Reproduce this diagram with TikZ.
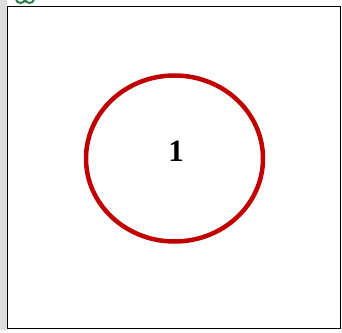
\documentclass[tikz,border=0pt]{standalone}
\usepackage{fontspec}
\setmainfont{Liberation Serif}
\definecolor{ringred}{HTML}{C00000}
\definecolor{stripgray}{HTML}{DCDCDC}
\definecolor{leafgreen}{HTML}{2E7D4F}
\tikzset{
  ring/.style={draw=ringred, line width=4.5pt, ellipse, minimum width=177pt, minimum height=166pt, inner sep=0pt},
  framebox/.style={draw=black, line width=1pt},
}
\usetikzlibrary{shapes.geometric}
\begin{document}
\begin{tikzpicture}[x=1pt,y=1pt]
\useasboundingbox (0,0) rectangle (342,332);
\fill[stripgray] (0,2) rectangle (6.5,332);
\draw[leafgreen, line width=2pt] (16,333) arc (180:360:4.5 and 4) arc (180:360:4.5 and 4);
\draw[framebox] (7,3.5) rectangle (340.5,325);
\node[ring] (c) at (174.5,173.5) {};
\node[font=\fontsize{31}{31}\selectfont\bfseries] (t) at (176,181) {1};
\end{tikzpicture}
\end{document}
